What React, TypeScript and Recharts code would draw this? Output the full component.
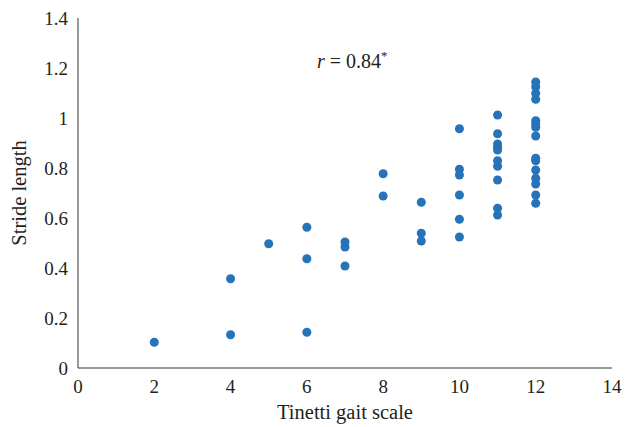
import { ScatterChart, Scatter, XAxis, YAxis, ZAxis, Label } from 'recharts';

const gaitScores = [
  2,
  4, 4,
  5,
  6, 6, 6,
  7, 7, 7,
  8, 8,
  9, 9, 9,
  10, 10, 10, 10, 10, 10,
  11, 11, 11, 11, 11, 11, 11, 11, 11, 11,
  12, 12, 12, 12, 12, 12, 12, 12, 12, 12, 12, 12, 12, 12, 12,
];

const strideLengths = [
  0.103,
  0.357, 0.133,
  0.497,
  0.563, 0.437, 0.143,
  0.504, 0.484, 0.408,
  0.777, 0.688,
  0.663, 0.539, 0.508,
  0.957, 0.795, 0.772, 0.692, 0.595, 0.524,
  1.012, 0.937, 0.896, 0.883, 0.872, 0.829, 0.807, 0.752, 0.639, 0.612,
  1.144, 1.125, 1.099, 1.075, 0.989, 0.976, 0.963, 0.928, 0.839, 0.829, 0.792, 0.759, 0.736, 0.692, 0.659,
];

const xTicks = [0, 2, 4, 6, 8, 10, 12, 14];
const yTicks = [0, 0.2, 0.4, 0.6, 0.8, 1, 1.2, 1.4];

const points = gaitScores.map((score, i) => ({ score, stride: strideLengths[i] }));

const font = '"Liberation Serif", "Times New Roman", serif';
const textColor = '#231f20';

export default function App() {
  return (
    <div style={{ position: 'absolute', left: 0, top: 0, width: 627, height: 427, fontFamily: font }}>
      <ScatterChart width={627} height={427} margin={{ top: 18, right: 15, bottom: 29, left: 28 }}>
        <XAxis
          type="number"
          dataKey="score"
          domain={[0, 14]}
          ticks={xTicks}
          height={30}
          tickLine={false}
          tickSize={0}
          tickMargin={12}
          axisLine={{ stroke: '#333' }}
          tick={{ fontSize: 19, fill: textColor, fontFamily: font }}
        >
          <Label
            value="Tinetti gait scale"
            position="bottom"
            offset={6}
            style={{ fontSize: 20.5, fill: textColor, fontFamily: font }}
          />
        </XAxis>
        <YAxis
          type="number"
          dataKey="stride"
          domain={[0, 1.4]}
          ticks={yTicks}
          width={50}
          tickLine={false}
          tickSize={0}
          tickMargin={10}
          axisLine={{ stroke: '#333' }}
          tick={{ fontSize: 19, fill: textColor, fontFamily: font }}
        >
          <Label
            value="Stride length"
            angle={-90}
            position="insideLeft"
            offset={-9}
            style={{ fontSize: 20.5, fill: textColor, fontFamily: font, textAnchor: 'middle' }}
          />
        </YAxis>
        <ZAxis range={[34, 34]} />
        <Scatter data={points} fill="#2773b9" isAnimationActive={false} />
      </ScatterChart>
      <div
        style={{
          position: 'absolute',
          left: 317,
          top: 48,
          fontSize: 20,
          color: textColor,
          whiteSpace: 'nowrap',
        }}
      >
        <i>r</i> = 0.84<sup style={{ fontSize: 13 }}>*</sup>
      </div>
    </div>
  );
}
